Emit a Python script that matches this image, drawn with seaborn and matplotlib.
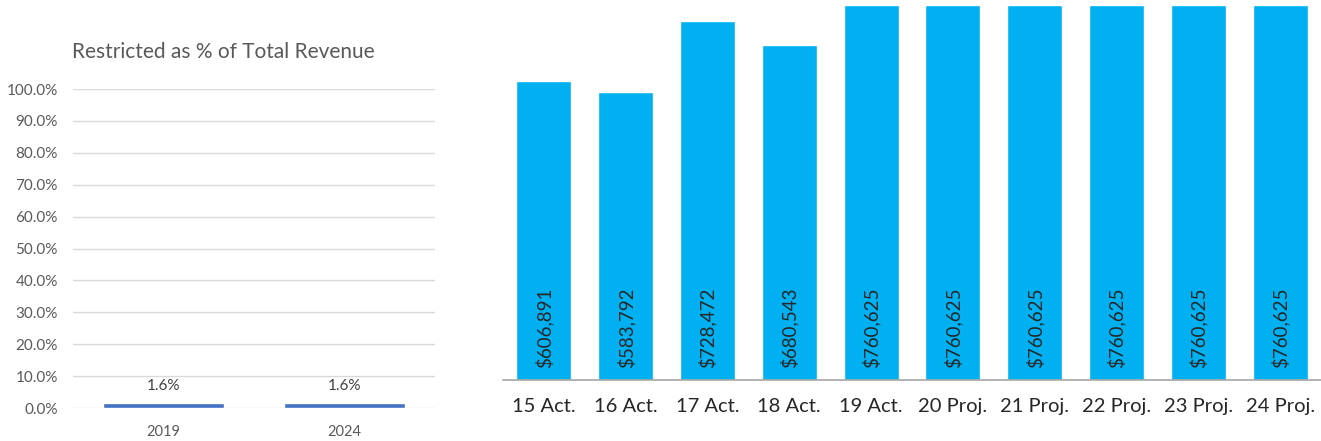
import matplotlib
matplotlib.use("Agg")
import matplotlib.pyplot as plt
import seaborn as sns
import pandas as pd
from matplotlib.ticker import PercentFormatter

# ---- data ----
pct_years = ["2019", "2024"]
pct_values = [0.016, 0.016]
pct_labels = ["1.6%", "1.6%"]

rev_categories = ["15 Act.", "16 Act.", "17 Act.", "18 Act.", "19 Act.",
                  "20 Proj.", "21 Proj.", "22 Proj.", "23 Proj.", "24 Proj."]
rev_values = [606891, 583792, 728472, 680543, 760625,
              760625, 760625, 760625, 760625, 760625]

sns.set_theme(style="white")
plt.rcParams['font.family'] = ['Lato', 'DejaVu Sans']

fig = plt.figure(figsize=(13.21, 4.41), dpi=100)

# ---- left chart ----
axL = fig.add_axes([73/1321, 1-408/441, 362/1321, (408-89)/441])
dfL = pd.DataFrame({"year": pct_years, "pct": pct_values})
sns.barplot(data=dfL, x="year", y="pct", color="#4472C4", width=0.67,
            saturation=1, ax=axL)
axL.set_ylim(0, 1.0)
axL.set_yticks([i/10 for i in range(11)])
axL.yaxis.set_major_formatter(PercentFormatter(1.0, decimals=1))
axL.grid(axis="y", color="#D9D9D9", linewidth=1)
axL.set_axisbelow(True)
for s in axL.spines.values():
    s.set_visible(False)
axL.tick_params(axis="y", length=0, pad=11, labelsize=11, labelcolor="#595959")
axL.tick_params(axis="x", length=0, pad=12, labelsize=10.5, labelcolor="#595959")
axL.set_xlabel("")
axL.set_ylabel("")
for i, lab in enumerate(pct_labels):
    axL.annotate(lab, xy=(i, pct_values[i]), xytext=(0, 7), textcoords="offset points",
                 ha="center", va="bottom", fontsize=11, color="#404040")
fig.text(72/1321, 1-52/441, "Restricted as % of Total Revenue", ha="left", va="center",
         fontsize=15, color="#595959")

# ---- right chart ----
axR = fig.add_axes([503/1321, 1-380/441, 818/1321, 374.7/441])
dfR = pd.DataFrame({"cat": rev_categories, "val": rev_values})
sns.barplot(data=dfR, x="cat", y="val", color="#00B0F0", width=0.67,
            saturation=1, ax=axR)
axR.set_ylim(0, 760625)
axR.set_xlim(-0.5, len(rev_categories)-0.5)
axR.set_yticks([])
for s in ["top", "right", "left"]:
    axR.spines[s].set_visible(False)
axR.spines["bottom"].set_color("#A6A6A6")
axR.spines["bottom"].set_linewidth(1.2)
axR.tick_params(axis="x", length=0, pad=13, labelsize=14.5, labelcolor="#262626")
axR.set_xlabel("")
axR.set_ylabel("")
for i, v in enumerate(rev_values):
    axR.annotate(f"${v:,}", xy=(i, 0), xytext=(0, 8.5), textcoords="offset points",
                 ha="center", va="bottom", rotation=90, fontsize=13.5, color="#262626")

fig.savefig("out.png", dpi=100)
